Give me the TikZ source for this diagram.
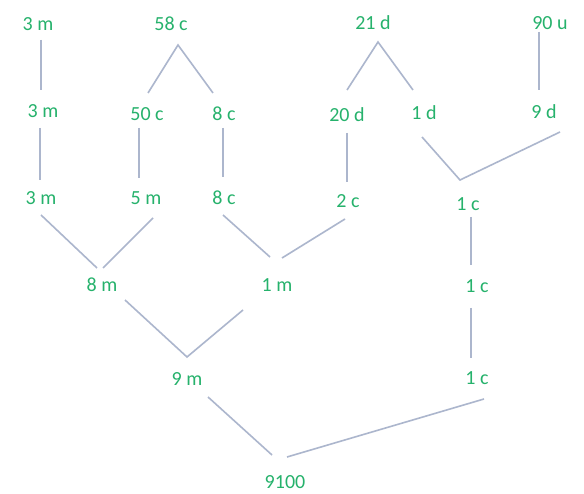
\documentclass[tikz,border=0pt]{standalone}
\usepackage{fontspec}
\setmainfont{Carlito}
\definecolor{txtgreen}{RGB}{38,178,108}
\definecolor{linegray}{RGB}{172,182,205}
\begin{document}
\begin{tikzpicture}[x=1pt,y=-1pt,
  lbl/.style={text=txtgreen,font=\fontsize{20}{22}\selectfont,inner sep=0pt,anchor=center},
  conn/.style={draw=linegray,line width=1.6pt}]
\useasboundingbox[fill=white] (0,0) rectangle (584,494);
% nodes
\node[lbl] (a1) at (38,24) {3 m};
\node[lbl] (b1) at (171,24) {58 c};
\node[lbl] (c1) at (373,23) {21 d};
\node[lbl] (d1) at (550,23) {90 u};
\node[lbl] (a2) at (43,111) {3 m};
\node[lbl] (b2) at (147,114) {50 c};
\node[lbl] (b3) at (224,114) {8 c};
\node[lbl] (c2) at (347,115) {20 d};
\node[lbl] (c3) at (424,113) {1 d};
\node[lbl] (d2) at (544,112) {9 d};
\node[lbl] (a3) at (41,198) {3 m};
\node[lbl] (b4) at (146,198) {5 m};
\node[lbl] (b5) at (224,198) {8 c};
\node[lbl] (c4) at (348,201) {2 c};
\node[lbl] (e1) at (468,204) {1 c};
\node[lbl] (f1) at (102,285) {8 m};
\node[lbl] (f2) at (277,285) {1 m};
\node[lbl] (e2) at (477,286) {1 c};
\node[lbl] (g1) at (187,379) {9 m};
\node[lbl] (e3) at (477,378) {1 c};
\node[lbl] (h1) at (285,482) {9100};
% connector end points
\coordinate (a1s) at (41,40);   \coordinate (a2n) at (41,90);
\coordinate (a2s) at (40,128);  \coordinate (a3n) at (40,180);
\coordinate (b1j) at (178,45);  \coordinate (b2n) at (148,93);  \coordinate (b3n) at (213,93);
\coordinate (b2s) at (139,128); \coordinate (b4n) at (139,178);
\coordinate (b3s) at (223,128); \coordinate (b5n) at (223,177);
\coordinate (a3s) at (41,215);  \coordinate (f1l) at (97,268);
\coordinate (b4s) at (153,218); \coordinate (f1r) at (103,268);
\coordinate (b5s) at (223,215); \coordinate (f2l) at (270,257);
\coordinate (c4s) at (345,219); \coordinate (f2r) at (282,258);
\coordinate (c1j) at (378,42);  \coordinate (c2n) at (347,90);  \coordinate (c3n) at (413,90);
\coordinate (d1s) at (539,32);  \coordinate (d2n) at (539,90);
\coordinate (c2s) at (347,133); \coordinate (c4n) at (347,182);
\coordinate (c3s) at (422,137); \coordinate (e1j) at (460,180); \coordinate (d2s) at (560,132);
\coordinate (e1s) at (471,217); \coordinate (e2n) at (471,265);
\coordinate (e2s) at (471,308); \coordinate (e3n) at (471,358);
\coordinate (f1s) at (125,300); \coordinate (g1j) at (187,357); \coordinate (f2s) at (243,310);
\coordinate (g1s) at (208,397); \coordinate (h1l) at (272,455);
\coordinate (e3s) at (484,399); \coordinate (h1r) at (287,457);
% connectors
\draw[conn] (a1s) -- (a2n);
\draw[conn] (a2s) -- (a3n);
\draw[conn] (b2n) -- (b1j) -- (b3n);
\draw[conn] (b2s) -- (b4n);
\draw[conn] (b3s) -- (b5n);
\draw[conn] (a3s) -- (f1l);
\draw[conn] (b4s) -- (f1r);
\draw[conn] (b5s) -- (f2l);
\draw[conn] (c4s) -- (f2r);
\draw[conn] (c2n) -- (c1j) -- (c3n);
\draw[conn] (d1s) -- (d2n);
\draw[conn] (c2s) -- (c4n);
\draw[conn] (c3s) -- (e1j) -- (d2s);
\draw[conn] (e1s) -- (e2n);
\draw[conn] (e2s) -- (e3n);
\draw[conn] (f1s) -- (g1j) -- (f2s);
\draw[conn] (g1s) -- (h1l);
\draw[conn] (e3s) -- (h1r);
\end{tikzpicture}
\end{document}
